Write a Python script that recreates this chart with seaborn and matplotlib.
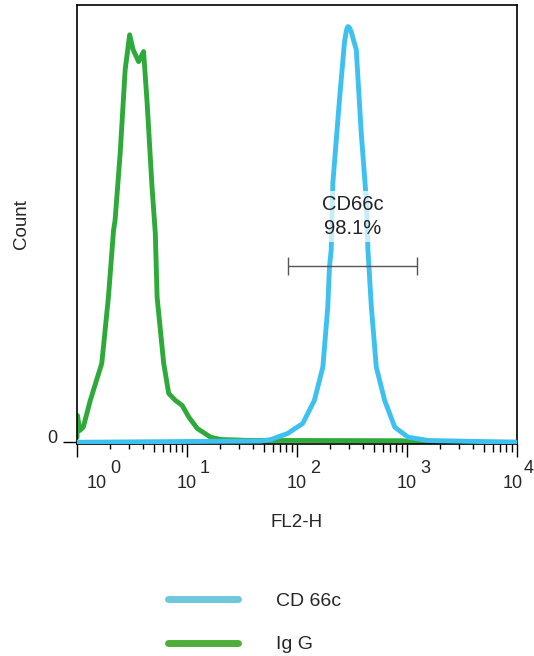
import matplotlib
matplotlib.use("Agg")
import matplotlib.pyplot as plt
import matplotlib.transforms as mtransforms
from matplotlib.lines import Line2D
from matplotlib.ticker import FixedLocator, NullFormatter, NullLocator
import pandas as pd
import seaborn as sns

# Isotype control histogram (FL2-H channel value, event count)
igg_fl2h = [1.0, 1.01, 1.06, 1.14, 1.32, 1.68, 1.93, 2.15, 2.22, 2.47, 2.74, 3.01, 3.24,
            3.63, 4.03, 4.34, 4.81, 5.15, 5.35, 5.73, 6.14, 6.82, 7.85, 9.04, 10.4,
            12.4, 16.4, 20.2, 38.0, 110, 891, 1350, 10000]
igg_count = [2.0, 10.8, 4.8, 6.1, 16.8, 31.6, 58.0, 84.8, 88.8, 115.6, 148.8, 162.8, 156.8,
             152.1, 156.1, 135.6, 102.0, 83.6, 58.0, 44.8, 31.6, 19.6, 16.8, 14.8, 10.1,
             5.6, 2.1, 1.2, 0.8, 0.8, 0.7, 0.1, 0.1]

# CD66c stained histogram
cd66c_fl2h = [1.0, 46.9, 57.9, 82.2, 112.7, 143.9, 171.8, 190.5, 197.2, 204.6,
              211.8, 243.2, 270.4, 282.0, 290.4, 300.5, 311.2, 345.9, 383.7, 426.6, 441.6,
              474.2, 526.0, 626.6, 774.5, 1025.6, 1563, 10000]
cd66c_count = [0.1, 0.6, 1.2, 3.6, 7.6, 16.8, 30.1, 54.1, 70.0, 76.8,
               103.6, 136.8, 160.0, 164.8, 166.1, 165.6, 164.0, 156.8, 123.6, 96.8, 76.8,
               54.1, 30.1, 16.8, 6.1, 2.1, 0.8, 0.1]

# Marker gate
gate_name = "CD66c"
gate_percent = 98.1
gate_lo, gate_hi = 82.2, 1239
gate_y = 70.4

decade_exponents = [0, 1, 2, 3, 4]
legend_labels = ["CD 66c", "Ig G"]

line_blue = "#3fc1ef"
line_green = "#2eaa3a"
legend_blue = "#6cc8da"
legend_green = "#4dae3a"

sns.set_style("white")
plt.rcParams["font.family"] = ["Liberation Sans", "DejaVu Sans"]

fig = plt.figure(figsize=(5.34, 6.56), dpi=100)
ax = fig.add_axes([77 / 534, 1 - 444 / 656, 440 / 534, 439 / 656])

igg = pd.DataFrame({"FL2-H": igg_fl2h, "Count": igg_count})
cd66c = pd.DataFrame({"FL2-H": cd66c_fl2h, "Count": cd66c_count})

sns.lineplot(data=igg, x="FL2-H", y="Count", color=line_green, linewidth=3.5,
             estimator=None, ax=ax, zorder=2)
sns.lineplot(data=cd66c, x="FL2-H", y="Count", color=line_blue, linewidth=3.5,
             estimator=None, ax=ax, zorder=3)

ax.set_xscale("log")
ax.set_xlim(1, 1e4)
ax.set_ylim(-0.6, 174.7)

# gate bar with end caps
cap = 3.6
ax.plot([gate_lo, gate_hi], [gate_y, gate_y], color="#555555", linewidth=1.0, zorder=4)
ax.vlines([gate_lo, gate_hi], gate_y - cap, gate_y + cap, color="#555555",
          linewidth=1.0, zorder=4)
gate_mid = (gate_lo * gate_hi) ** 0.5
ax.text(gate_mid, 90.3, f"{gate_name}\n{gate_percent:.1f}%", ha="center", va="center",
        fontsize=14.5, color="#222222", linespacing=1.3, zorder=5,
        bbox=dict(facecolor="white", edgecolor="none", alpha=0.7, pad=3))

# axis frame
for side in ["left", "right", "top", "bottom"]:
    ax.spines[side].set_visible(True)
    ax.spines[side].set_color("black")
    ax.spines[side].set_linewidth(1.2)

# x ticks: decades labelled "10" with a raised exponent
decades = [10.0 ** e for e in decade_exponents]
ax.set_xticks(decades)
ax.set_xticklabels(["10"] * len(decades))
ax.xaxis.set_minor_locator(FixedLocator([m * d for d in decades[:-1] for m in range(5, 10)]))
ax.xaxis.set_minor_formatter(NullFormatter())
ax.tick_params(axis="x", which="major", direction="out", length=9.4, width=1.0,
               pad=13, labelsize=13, bottom=True, color="black")
ax.tick_params(axis="x", which="minor", direction="out", length=5.8, width=1.0,
               bottom=True, color="black")

sec = ax.secondary_xaxis("bottom")
sec.set_xticks([m * d for d in decades[:-1] for m in range(2, 5)])
sec.set_xticklabels([])
sec.xaxis.set_minor_locator(NullLocator())
sec.tick_params(axis="x", which="major", direction="out", length=3.6, width=1.0, color="black")
sec.spines["bottom"].set_visible(False)

# horizontal nudges (pixels) for the end labels so they stay inside the figure
label_shift = {0: 19.5, 4: -4}
exp_dx = {0: 33, 4: 7}
for e in decade_exponents:
    ax.annotate(str(e), xy=(10.0 ** e, 0), xycoords=("data", "axes fraction"),
                xytext=(exp_dx.get(e, 13), -16), textcoords="offset pixels",
                ha="left", va="top", fontsize=13, annotation_clip=False)

for e, lbl in zip(decade_exponents, ax.get_xticklabels()):
    if e in label_shift:
        lbl.set_transform(lbl.get_transform() +
                          mtransforms.ScaledTranslation(label_shift[e] / 100, 0,
                                                        fig.dpi_scale_trans))

# y axis: only the zero count is marked
ax.set_yticks([0])
ax.set_yticklabels(["0"])
ax.tick_params(axis="y", which="major", direction="out", length=10, width=1.0,
               pad=4.3, labelsize=13, left=True, color="black")
zero = ax.get_yticklabels()[0]
zero.set_transform(zero.get_transform() +
                   mtransforms.ScaledTranslation(0, 6 / 100, fig.dpi_scale_trans))

ax.set_xlabel("FL2-H", fontsize=13.5, labelpad=16)
ax.set_ylabel("Count", fontsize=13.5, labelpad=12)

handles = [Line2D([], [], color=legend_blue, linewidth=5, solid_capstyle="round"),
           Line2D([], [], color=legend_green, linewidth=5, solid_capstyle="round")]
fig.legend(handles, legend_labels, loc="upper left",
           bbox_to_anchor=(168 / 534, 1 - 592 / 656), frameon=False, fontsize=14,
           handlelength=3.6, handletextpad=1.96, labelspacing=1.35, borderpad=0,
           borderaxespad=0)

fig.savefig("out.png", dpi=100)
